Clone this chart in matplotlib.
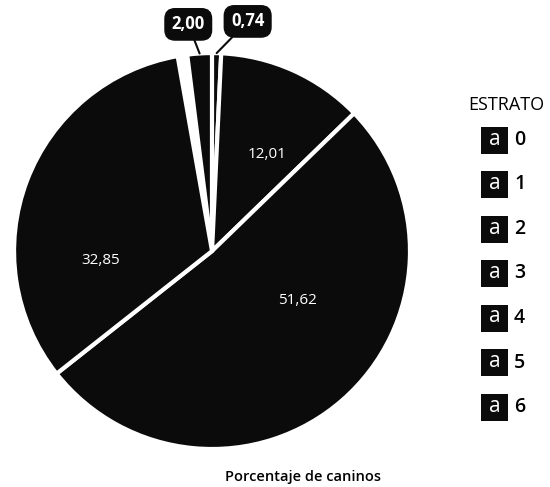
import matplotlib.pyplot as plt
from matplotlib.patches import Rectangle
import numpy as np

plt.rcParams['font.family'] = ['Open Sans', 'DejaVu Sans']

# porcentaje de caninos por estrato (orden horario desde arriba)
porcentajes = [2.00, 0.74, 12.01, 51.62, 32.85]
etiquetas = ['2,00', '0,74', '12,01', '51,62', '32,85']
estratos = ['0', '1', '2', '3', '4', '5', '6']

W, H = 550, 487
fig = plt.figure(figsize=(W / 100, H / 100), dpi=100)
ax = fig.add_axes([0.0255, 0.078, 0.72, 0.813])

fracciones = [p / 100 for p in porcentajes]
wedges, _ = ax.pie(fracciones, colors=['#0b0b0b'] * len(fracciones),
                   startangle=90 + porcentajes[0] * 3.6, counterclock=False,
                   normalize=False,
                   wedgeprops=dict(edgecolor='white', linewidth=3))
ax.set_xlim(-1, 1)
ax.set_ylim(-1, 1)
ax.set_aspect('equal')

# etiquetas dentro de las porciones grandes
pos_internas = {'12,01': (0.28, 0.49), '51,62': (0.43, -0.25), '32,85': (-0.56, -0.05)}
for lab, (x, y) in pos_internas.items():
    ax.text(x, y, lab, color='white', fontsize=11, ha='center', va='center')

# etiquetas con recuadro para las porciones pequenas
for w, lab, xt in zip(wedges[:2], etiquetas[:2], [(-0.12, 1.145), (0.18, 1.16)]):
    ang = np.deg2rad((w.theta1 + w.theta2) / 2)
    ax.annotate(lab, xy=(np.cos(ang), np.sin(ang)), xytext=xt,
                ha='center', va='center', color='white', fontsize=12,
                fontweight='bold', annotation_clip=False,
                bbox=dict(boxstyle='round,pad=0.4,rounding_size=0.6',
                          fc='#0b0b0b', ec='#0b0b0b'),
                arrowprops=dict(arrowstyle='-', color='#0b0b0b', lw=1.5,
                                shrinkA=0, shrinkB=0))

# leyenda
fig.text(468 / W, 1 - 105 / H, 'ESTRATO', fontsize=13, ha='left', va='center')
for i, e in enumerate(estratos):
    yc = 140 + 44.5 * i
    fig.add_artist(Rectangle((481 / W, 1 - (yc + 13.5) / H), 27 / W, 27 / H,
                             transform=fig.transFigure, fc='#0b0b0b', ec='none'))
    fig.text(494.5 / W, 1 - (yc - 1) / H, 'a', color='white', fontsize=15,
             ha='center', va='center')
    fig.text(514 / W, 1 - yc / H, e, fontsize=14, fontweight='semibold',
             ha='left', va='center')

fig.text(303 / W, 1 - 477 / H, 'Porcentaje de caninos', fontsize=10.5,
         fontweight='semibold', ha='center', va='center')

fig.savefig('out.png', dpi=100)
